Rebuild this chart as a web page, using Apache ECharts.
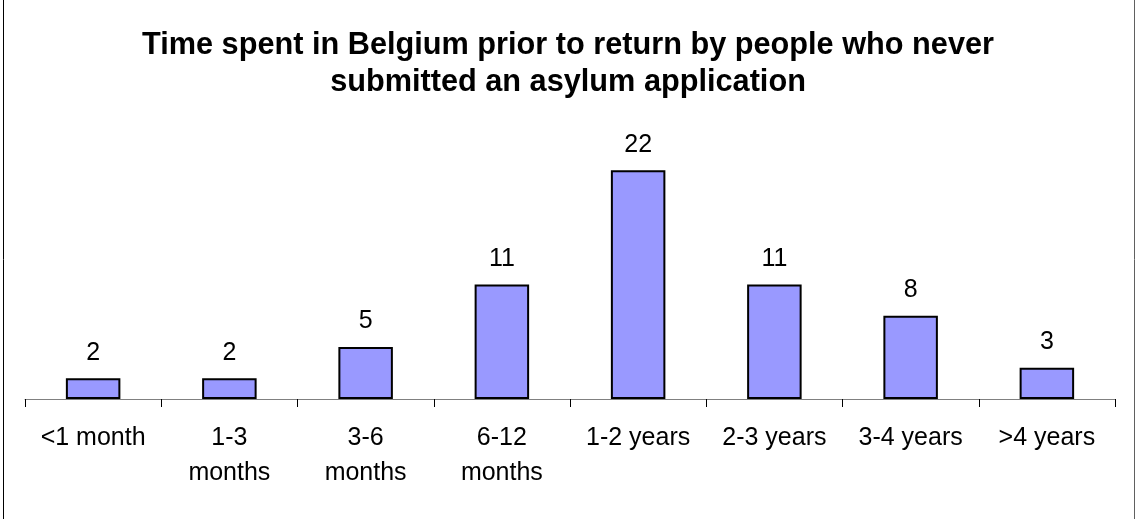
<!DOCTYPE html>
<html><head><meta charset="utf-8">
<script src="https://cdn.jsdelivr.net/npm/echarts@6/dist/echarts.min.js"></script>
<style>html,body{margin:0;padding:0;background:#fff}#c{width:1136px;height:519px}</style>
</head><body><div id="c"></div>
<script>
const titleText = 'Time spent in Belgium prior to return by people who never\nsubmitted an asylum application';
const categories = ['<1 month', '1-3\nmonths', '3-6\nmonths', '6-12\nmonths', '1-2 years', '2-3 years', '3-4 years', '>4 years'];
const values = [2, 2, 5, 11, 22, 11, 8, 3];

const chart = echarts.init(document.getElementById('c'), null, {renderer: 'canvas'});
chart.setOption({
  animation: false,
  backgroundColor: '#ffffff',
  title: {
    text: titleText,
    left: 'center',
    top: 22,
    textStyle: {fontFamily: 'Liberation Sans, Arial, sans-serif', fontSize: 30.7, fontWeight: 'bold', color: '#000', lineHeight: 37}
  },
  graphic: [
    {type: 'line', shape: {x1: 3.5, y1: 0, x2: 3.5, y2: 519}, style: {stroke: '#000', lineWidth: 1}, silent: true},
    {type: 'line', shape: {x1: 1134.5, y1: 0, x2: 1134.5, y2: 519}, style: {stroke: '#606060', lineWidth: 1}, silent: true}
  ],
  grid: {left: 25, right: 21, top: 139, bottom: 120, containLabel: false},
  xAxis: {
    type: 'category',
    data: categories,
    boundaryGap: true,
    axisLine: {show: true, lineStyle: {color: '#808080', width: 1}},
    axisTick: {show: true, alignWithLabel: false, length: 8, lineStyle: {color: '#000'}},
    axisLabel: {interval: 0, margin: 22, color: '#000', fontSize: 25, lineHeight: 35, fontFamily: 'Liberation Sans, Arial, sans-serif'}
  },
  yAxis: {
    type: 'value', min: 0, max: 25,
    show: false, splitLine: {show: false}
  },
  series: [{
    type: 'bar',
    data: values,
    barWidth: '40%',
    itemStyle: {color: '#9999ff', borderColor: '#000', borderWidth: 2},
    label: {show: true, position: 'top', distance: 13, color: '#000', fontSize: 25, fontFamily: 'Liberation Sans, Arial, sans-serif'}
  }]
});
</script></body></html>
